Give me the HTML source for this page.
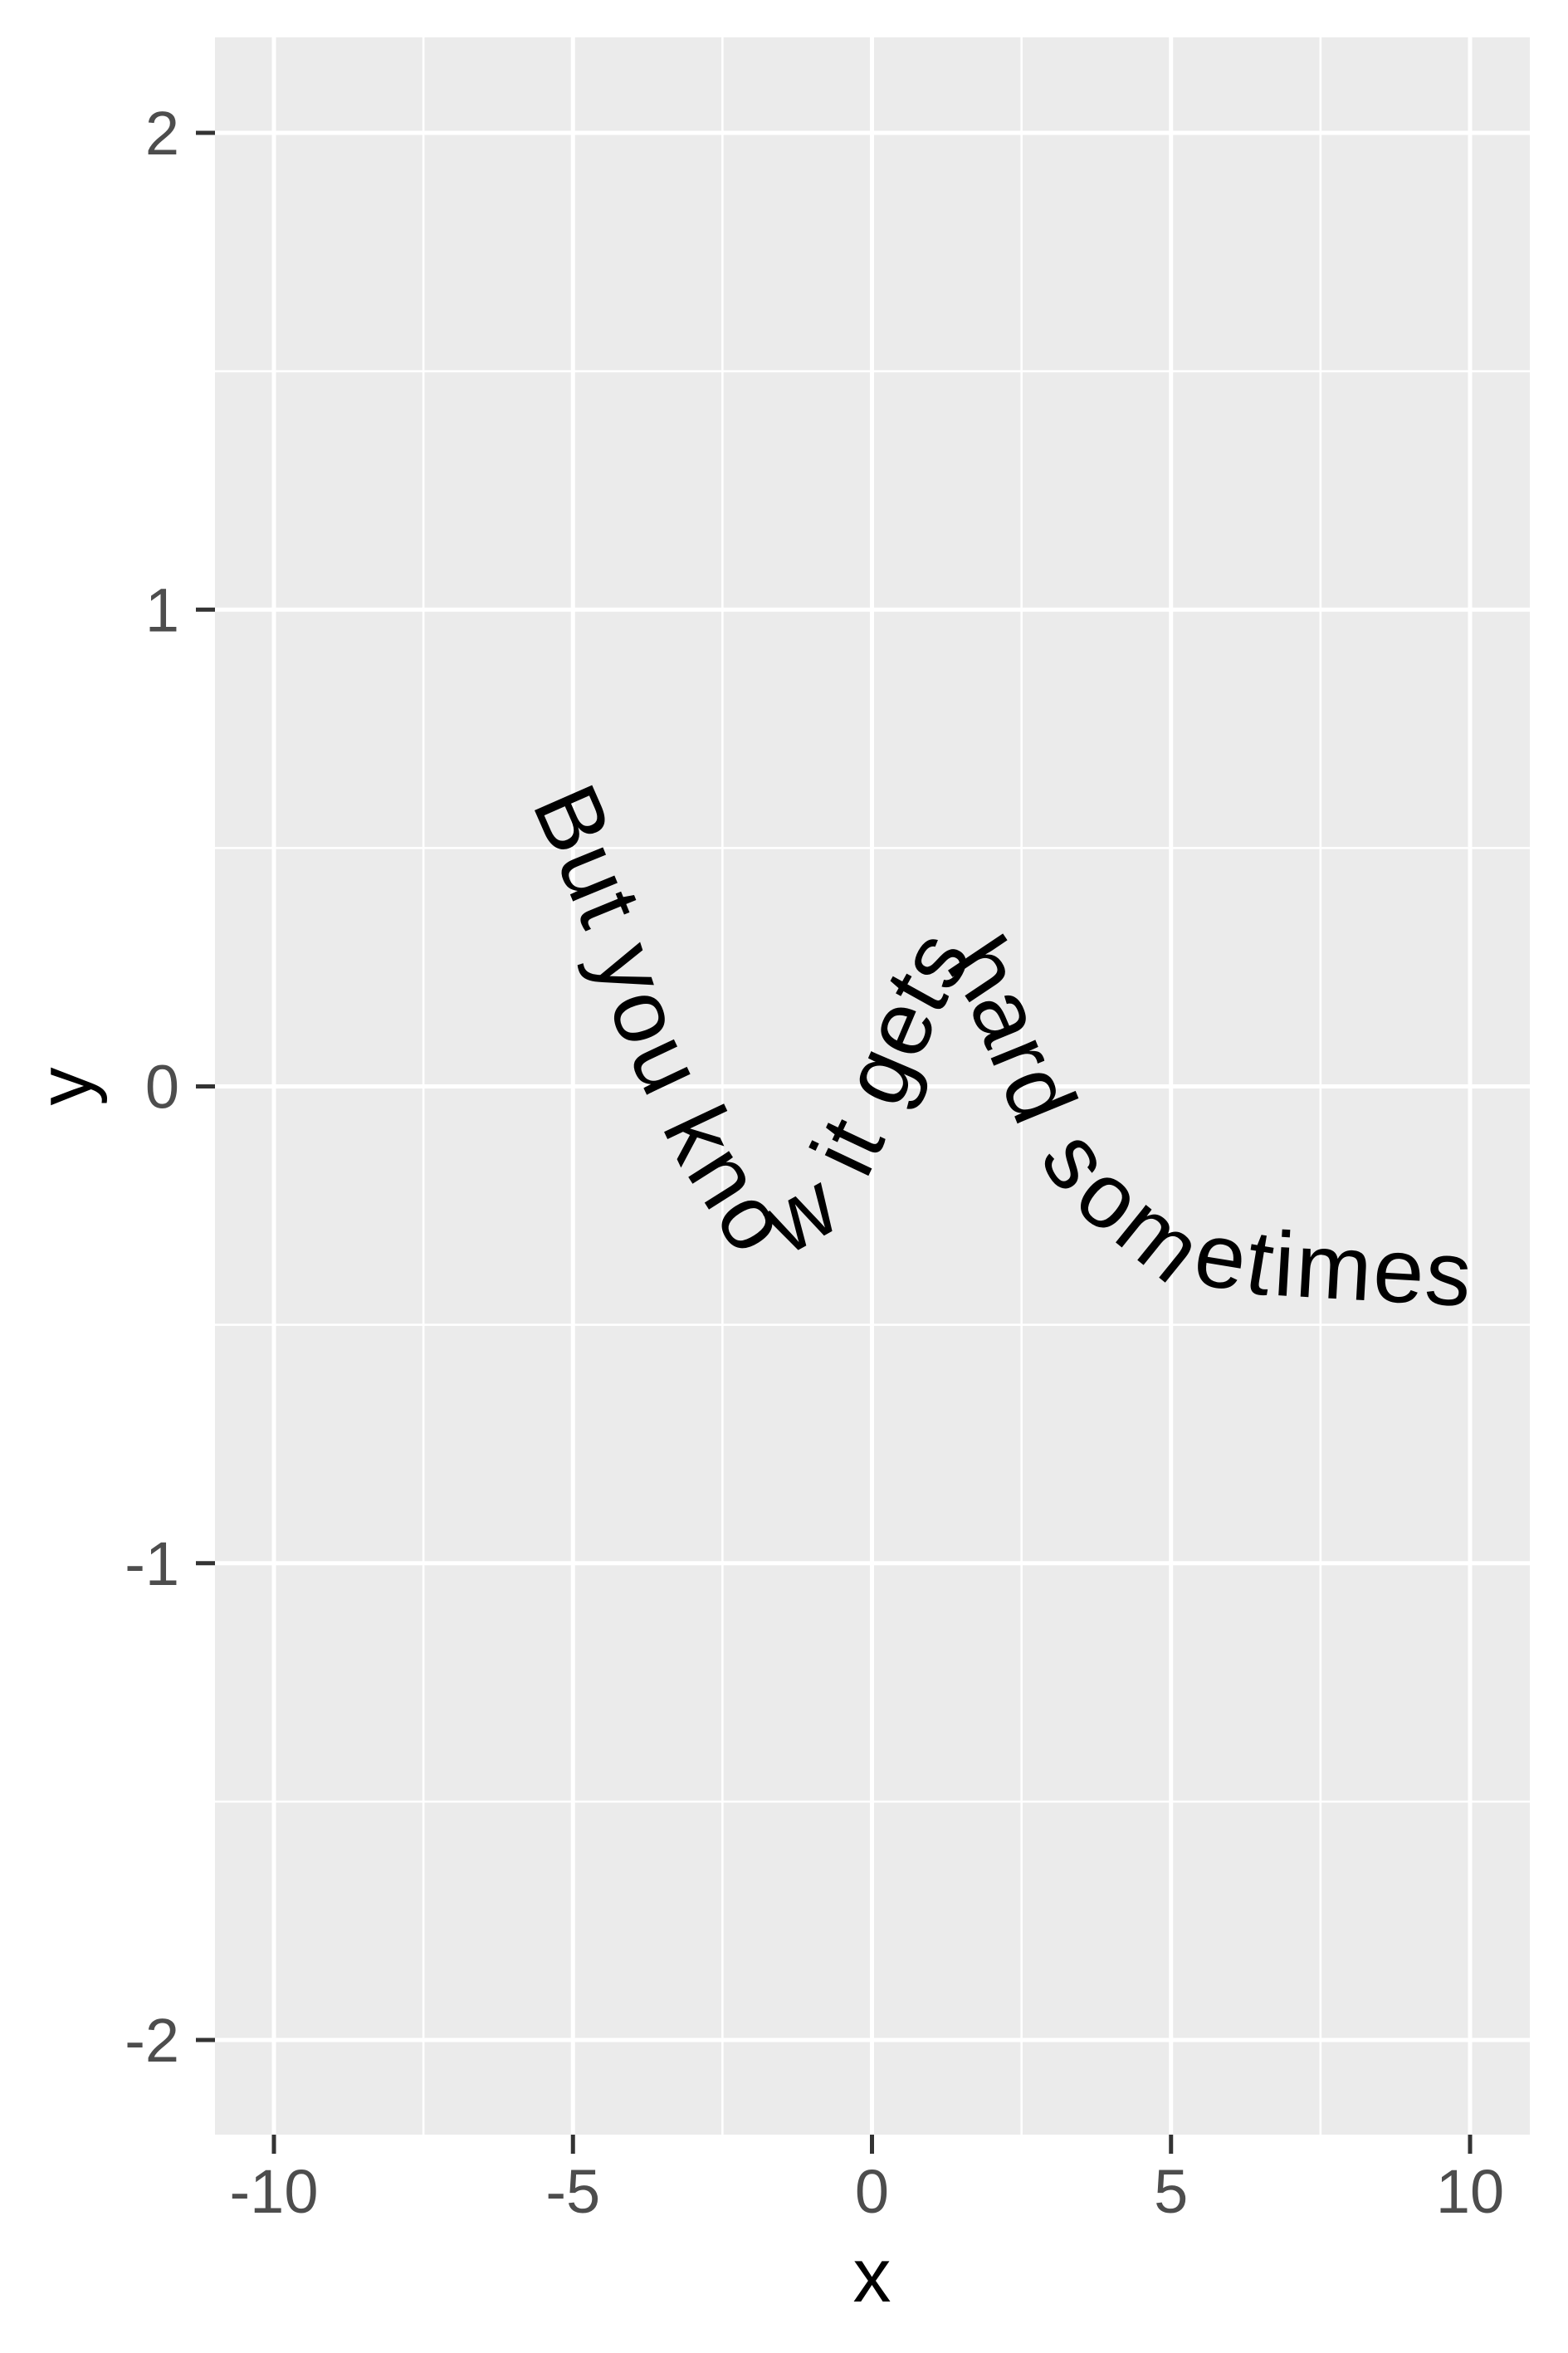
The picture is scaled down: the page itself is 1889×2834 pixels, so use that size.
<!DOCTYPE html>
<html><head><meta charset="utf-8"><style>
html,body{margin:0;padding:0;background:#fff}
svg{display:block}
</style></head><body>
<svg id="chart" width="1889" height="2834" xmlns="http://www.w3.org/2000/svg" font-family="'Liberation Sans', Arial, sans-serif">
<rect x="259" y="45" width="1584" height="2526" fill="#ebebeb"/>
<g id="grid"></g>
<g id="axes"></g>
<path id="curve" fill="none" stroke="none"/>
<text id="curvetext" font-size="110" fill="#000" dominant-baseline="central"><textPath href="#curve">But you know it gets hard sometimes</textPath></text>
<text x="1050.5" y="2772" font-size="92" text-anchor="middle" fill="#000">x</text>
<text transform="translate(110,1308.5) rotate(-90)" font-size="92" text-anchor="middle" fill="#000">y</text>
</svg>
<script>
const xTicks=[-10,-5,0,5,10];
const xMinor=[-7.5,-2.5,2.5,7.5];
const yTicks=[-2,-1,0,1,2];
const yMinor=[-1.5,-0.5,0.5,1.5];
const xLabels=["-10","-5","0","5","10"];
const yLabels=["-2","-1","0","1","2"];
const pathX=[-5.21,-4.86,-4.24,-3.70,-2.80,-1.84,-0.84,-0.20,0.65,1.18,1.55,2.03,2.91,3.66,5.03,6.53,9.65,10.05];
const pathY=[0.62,0.52,0.33,0.12,-0.12,-0.31,-0.24,-0.07,0.18,0.30,0.31,0.22,-0.05,-0.20,-0.339,-0.370,-0.392,-0.396];
const X=v=>1050.5+v*72.05;
const Y=v=>1308.5-v*574.25;
const NS="http://www.w3.org/2000/svg";
const grid=document.getElementById('grid'), axes=document.getElementById('axes');
function line(p,x1,y1,x2,y2,w,c){const l=document.createElementNS(NS,'line');l.setAttribute('x1',x1);l.setAttribute('y1',y1);l.setAttribute('x2',x2);l.setAttribute('y2',y2);l.setAttribute('stroke',c);l.setAttribute('stroke-width',w);p.appendChild(l);return l;}
xMinor.forEach(v=>{const l=line(grid,X(v),45,X(v),2571,2.6,'#fff');

});
yMinor.forEach(v=>{const l=line(grid,259,Y(v),1843,Y(v),2.6,'#fff');

});
xTicks.forEach((v,i)=>{const l=line(grid,X(v),45,X(v),2571,5,'#fff');


const t=line(axes,X(v),2571,X(v),2594,5,'#333');


const tx=document.createElementNS(NS,'text');tx.setAttribute('x',X(v));tx.setAttribute('y',2665);tx.setAttribute('font-size','74');tx.setAttribute('text-anchor','middle');tx.setAttribute('fill','#4d4d4d');tx.textContent=xLabels[i];


axes.appendChild(tx);});
yTicks.forEach((v,i)=>{const l=line(grid,259,Y(v),1843,Y(v),5,'#fff');


const t=line(axes,236,Y(v),259,Y(v),5,'#333');


const tx=document.createElementNS(NS,'text');tx.setAttribute('x',216);tx.setAttribute('y',Y(v)+26);tx.setAttribute('font-size','74');tx.setAttribute('text-anchor','end');tx.setAttribute('fill','#4d4d4d');tx.textContent=yLabels[i];


axes.appendChild(tx);});
const curve=document.getElementById('curve');
curve.setAttribute('d',pathX.map((v,i)=>(i?'L':'M')+X(v).toFixed(1)+','+Y(pathY[i]).toFixed(1)).join(' '));
const txt=document.getElementById('curvetext');
const L=curve.getTotalLength();
const tl=txt.getComputedTextLength();
const n=txt.textContent.length;
if(tl>0){txt.setAttribute('letter-spacing',((L-tl)/n).toFixed(2));}
</script>
</body></html>
